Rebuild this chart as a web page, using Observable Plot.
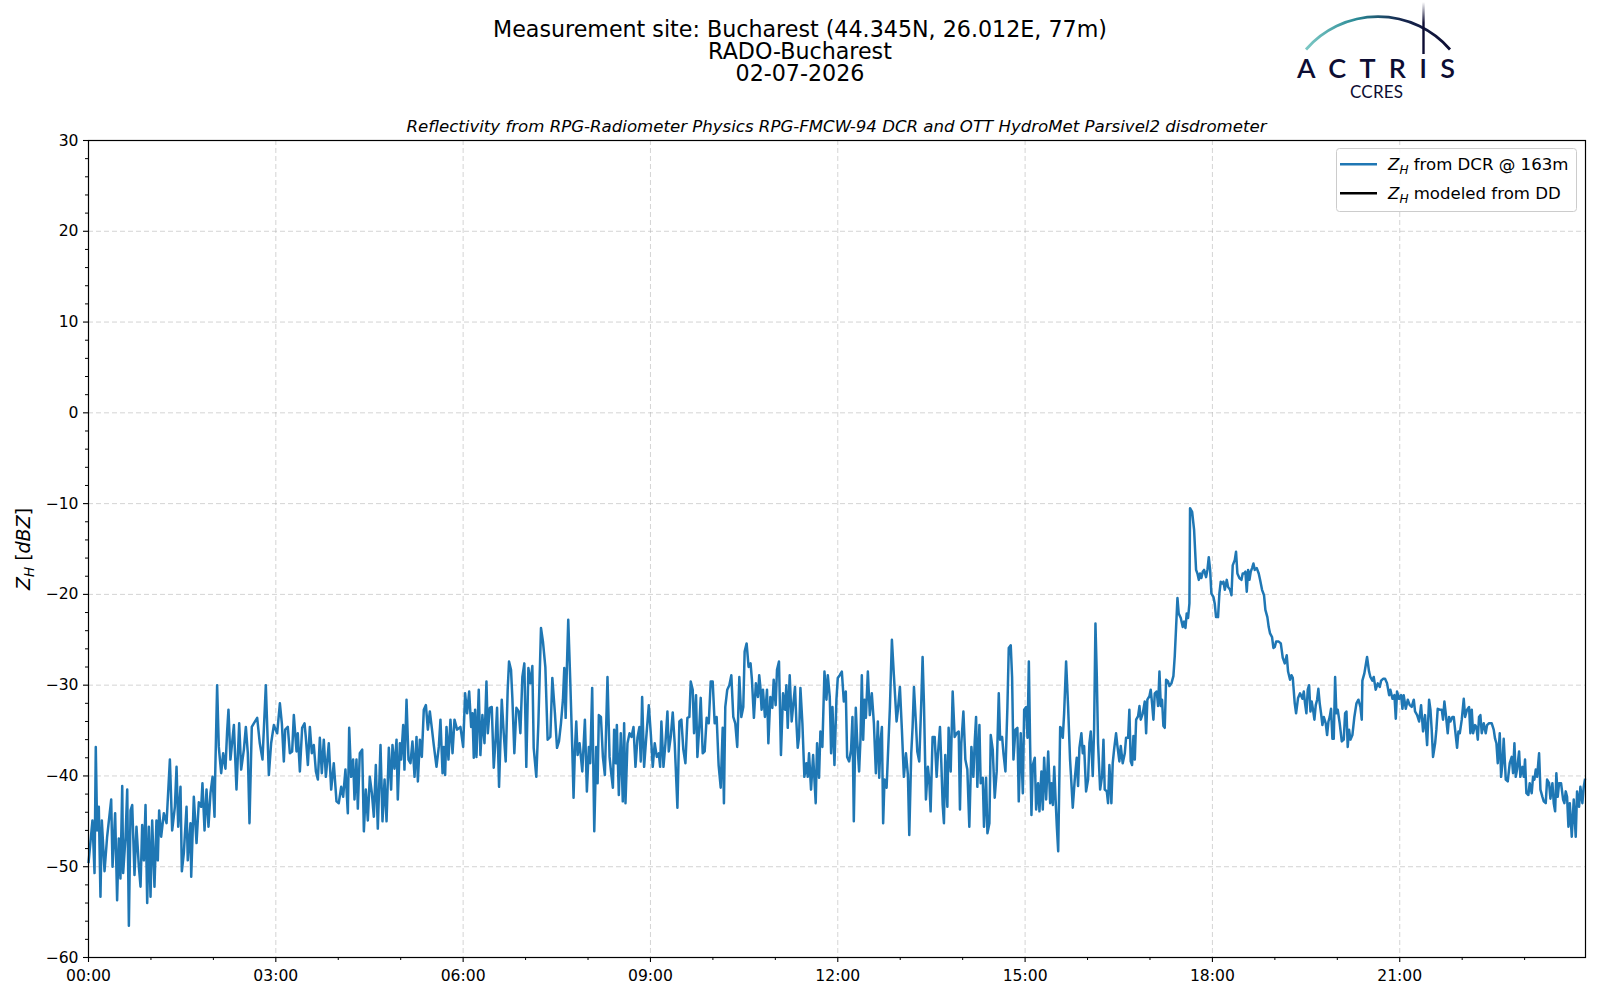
<!DOCTYPE html>
<html>
<head>
<meta charset="utf-8">
<script src="https://cdn.jsdelivr.net/npm/d3@7"></script>
<script src="https://cdn.jsdelivr.net/npm/@observablehq/plot@0.6"></script>
<style>
  html, body { margin: 0; padding: 0; background: #ffffff; }
  #wrap { position: relative; width: 1600px; height: 1000px; overflow: hidden; font-family: "DejaVu Sans", sans-serif; }
  #chart { position: absolute; left: 0; top: 0; }
  #chart svg text { font-size: 15.6px; font-family: "DejaVu Sans", sans-serif; fill: #000; }
  #overlay { position: absolute; left: 0; top: 0; pointer-events: none; }
</style>
</head>
<body>
<div id="wrap">
  <div id="chart"></div>
  <svg id="overlay" width="1600" height="1000" xmlns="http://www.w3.org/2000/svg"></svg>
</div>
<script>
// ---------------- DATA ----------------
// Time in minutes since 00:00, reflectivity Z_H in dBZ (DCR @ 163m)
const dcr_00_06 = [
[0,-49.6],[3.8,-44.9],[5.8,-50.7],[7.0,-36.8],[8.3,-46],[9.9,-43.4],[11.5,-53.3],[12.8,-44.9],[15.4,-50.5],[17.9,-46.7],
[21.8,-42.6],[23.1,-50],[25.6,-44.1],[27.5,-53.7],[29.1,-46.9],[30.7,-51.3],[32.4,-41.1],[33.3,-50.7],[35.6,-46.7],[37.2,-41.5],
[38.8,-56.5],[40.4,-43.8],[42.0,-43.2],[44.2,-50.9],[46.1,-45.6],[48.4,-50],[50.0,-52.2],[51.6,-45.4],[53.2,-49.3],[54.8,-43.2],
[56.4,-54],[58.0,-45.6],[59.6,-53.3],[61.2,-44.9],[63.4,-52.2],[65.3,-44.9],[66.6,-49.3],[67.9,-43.8],[69.8,-46.7],[72.4,-44.1],
[75.0,-45.2],[78.2,-38.2],[80.4,-46],[83.0,-43.4],[84.6,-39],[86.2,-45.6],[88.4,-41.2],[89.7,-50.5],[91.6,-48.5],[94.2,-43.4],
[95.4,-49.3],[98.0,-45.2],[98.7,-51.1],[101.2,-42.3],[103.8,-47.4],[106.0,-42.9],[108.3,-43.4],[109.5,-40.8],[111.5,-46],[113.4,-41.5],
[115.3,-45.6],[117.2,-41.9],[119.2,-40.1],[121.1,-44.5],[121.7,-40.1],[123.6,-30],[125.2,-36.8],[127.5,-39.7],[129.4,-37.5],[131.6,-39.2],
[133.2,-35.1],[134.5,-32.7],[136.4,-38.2],[139.7,-34.4],[142.2,-41.5],[144.8,-34.2],[146.7,-39.3],[149.3,-37.1],[151.2,-34.6],[153.1,-37.5],
[154.7,-45.2],[156.9,-34.6],[158.9,-34.2],[162.1,-33.6],[164.6,-36.4],[167.2,-38.2],[170.4,-30],[173.3,-39.9],[175.5,-36.4],[178.1,-34.4],
[181.3,-35.3],[183.9,-32],[185.8,-34.2],[187.7,-38.4],[189.0,-34.9],[191.5,-34.6],[193.5,-37.5],[195.7,-37.3],[197.3,-33.3],[199.9,-37.3],
[201.1,-35.3],[203.1,-39.5],[205.3,-34.7],[207.6,-34.2],[208.8,-35.7],[210.8,-38.8],[212.7,-34.6],[214.6,-37.5],[216.5,-36.6],[218.5,-39.5],
[220.4,-40.4],[222.3,-35.8],[224.2,-39.7],[226.1,-36],[228.1,-40.1],[230.9,-36.4],[233.2,-41.5],[235.7,-38.6],[238.3,-42.8],[240.5,-43],
[242.8,-41.2],[244.7,-42.3],[246.9,-39.3],[249.2,-44.1],[250.5,-34.7],[252.4,-40.1],[254.3,-38.2],[255.6,-42.6],[257.5,-38.2],[258.8,-43.6],
[260.7,-37.5],[263.0,-37.1],[264.6,-46.1],[266.5,-41.5],[268.4,-44.9],[270.3,-40.1],[272.3,-41.9],[274.2,-44.5],[276.1,-38.8],[278.0,-45.8],
[280.6,-36.6],[282.5,-45],[284.5,-40.4],[286.4,-45],[288.6,-36.9],[290.8,-41.5],[292.1,-36.6],[294.0,-39.2],[296.0,-36],[297.2,-42.6],
[299.2,-36.4],[300.4,-38.2],[302.4,-34.4],[303.6,-39.3],[305.6,-31.6],[307.5,-38.2],[309.4,-38.6],[311.3,-36.2],[313.3,-40.1],[315.2,-35.7],
[316.5,-40.6],[318.4,-36],[320.3,-37.9],[322.2,-32.7],[324.2,-32.2],[326.1,-34.9],[328.0,-32.9],[329.9,-34.7],[331.8,-36.6],[334.4,-39],
[336.6,-36.8],[338.2,-33.8],[340.2,-39.7],[341.4,-36.8],[342.7,-39.9],[344.0,-34.6],[345.9,-38.2],[347.8,-33.8],[349.8,-37.5],[351.7,-33.8],
[354.2,-34.9],[357.4,-34.6]
];
const dcr_06_11 = [
[360.0,-36.8],[361.9,-30.9],[363.8,-33.1],[365.8,-30.7],[367.7,-34.6],[369.0,-33.1],[370.2,-38],[371.5,-32.7],[372.8,-37.9],[375.0,-30.5],
[376.6,-37.7],[378.5,-33.3],[380.5,-36.4],[382.4,-29.6],[383.7,-35.3],[385.6,-32.5],[387.5,-32.4],[389.4,-39.1],[391.3,-35.7],[392.6,-32.5],
[394.5,-41.2],[397.1,-31.6],[399.0,-35.3],[400.9,-38.4],[402.8,-30.5],[404.1,-27.4],[406.0,-28.3],[407.3,-31.4],[409.2,-37.5],[411.2,-32.5],
[413.4,-32.9],[415.0,-35.3],[416.9,-29.1],[418.8,-27.6],[420.7,-39],[422.7,-28.1],[424.6,-29.8],[426.5,-27.9],[427.8,-36.9],[430.3,-40.1],
[432.3,-34.2],[434.8,-23.7],[436.7,-25.2],[439.0,-28],[441.2,-36],[443.8,-35.7],[445.7,-29.2],[448.2,-33.1],[450.2,-36.9],[452.1,-36.2],
[454.0,-34.2],[455.9,-31.6],[457.2,-28.1],[458.5,-33.6],[459.7,-28],[461.0,-22.8],[462.9,-29.4],[464.9,-37.1],[466.1,-42.4],[467.4,-37.1],
[468.7,-34],[470.0,-37.7],[471.9,-36.4],[474.5,-39.5],[477.0,-33.8],[478.9,-41.7],[480.8,-36.8],[482.1,-38.6],[484.0,-30.3],[486.0,-46.1],
[487.9,-36.8],[489.2,-40.8],[490.4,-33.3],[492.4,-33.5],[494.3,-37.9],[496.2,-39.9],[498.7,-29.1],[500.7,-37.9],[501.9,-39.3],[503.9,-41.3],
[505.1,-34.9],[506.7,-38.6],[507.7,-34.4],[509.6,-42.1],[511.5,-35.3],[513.4,-42.8],[514.7,-34.2],[516.0,-43],[517.9,-36.4],[519.9,-35.3],
[521.8,-35.7],[523.7,-34.6],[525.6,-39],[527.5,-35.8],[529.4,-34.6],[530.7,-38.4],[532.0,-31.3],[533.9,-39],[535.8,-36],[538.4,-32.2],
[540.3,-35.3],[542.2,-39],[544.1,-36.4],[546.1,-37.9],[548.0,-37.5],[549.3,-39],[550.5,-34],[552.5,-39],[554.4,-36.4],[556.3,-32.9],
[557.6,-37.3],[559.5,-35.7],[561.4,-33],[563.3,-36.4],[565.9,-43.5],[567.8,-34],[569.7,-33.8],[571.6,-37.1],[573.6,-38.6],[575.5,-33.6],
[577.4,-33.5],[578.7,-29.6],[580.6,-30.5],[581.9,-35.3],[583.8,-31.1],[585.1,-37.9],[587.0,-34.4],[588.3,-31.4],[590.2,-37.5],[592.1,-37.3],
[594.0,-33.6],[596.0,-34.2],[597.9,-29.6],[599.8,-29.6],[601.7,-34.2],[603.6,-33.5],[605.5,-38.8],[607.5,-41.3],[609.4,-34.7],[610.6,-43],
[611.9,-32.4],[613.8,-30.5],[615.8,-30],[617.7,-28.9],[619.6,-33.5],[621.5,-34.2],[623.4,-36.8],[625.4,-29.1],[627.3,-33.5],[629.2,-32.4],
[630.5,-26.3],[632.4,-25.4],[634.3,-28],[636.2,-27.6],[637.5,-29.4],[639.4,-33.6],[641.3,-29.8],[643.3,-31.3],[644.5,-28.9]
];
const dcr_11_15 = [
[645.6,-30.2],[646.8,-32.7],[648.1,-30.5],[650.0,-33.5],[652.0,-30.5],[653.3,-36.4],[655.2,-31.3],[657.1,-32.5],[658.4,-29.4],[660.3,-32.2],
[661.6,-28.3],[663.5,-27.4],[665.4,-37.7],[667.4,-30.9],[669.3,-32.7],[670.6,-30],[671.9,-34.7],[673.8,-28.9],[675.7,-34],[677.0,-32.4],
[678.9,-30.2],[680.2,-34],[681.5,-36.9],[682.8,-35.7],[684.1,-30.3],[686.0,-34.2],[687.9,-40.1],[689.8,-38.6],[691.1,-40.1],[692.4,-37.5],
[694.3,-41.5],[696.3,-37.7],[698.8,-43],[700.1,-36.4],[702.0,-40.2],[703.3,-35.1],[705.2,-36.8],[707.2,-28.5],[709.1,-31.6],[710.4,-28.9],
[712.3,-31.3],[713.6,-37.5],[714.9,-32.4],[716.8,-38.8],[718.7,-31.6],[720.0,-29.2],[721.9,-28.9],[723.9,-28.5],[725.8,-31.8],[727.7,-30.7],
[729.0,-37.9],[730.9,-38.4],[732.8,-37.1],[734.1,-33.5],[735.4,-45],[737.3,-32.5],[738.6,-36],[740.5,-39.5],[741.8,-36],[743.1,-28.9],
[744.4,-36],[745.7,-31.6],[747.0,-33.6],[748.9,-28.5],[750.8,-33.3],[752.7,-30.9],[754.7,-34.2],[756.6,-39.7],[758.5,-34],[759.8,-40.2],
[761.1,-36.2],[762.4,-34.6],[763.6,-45.2],[764.9,-40.4],[766.9,-41.3],[768.1,-38],[770.1,-32.4],[772.0,-25],[773.9,-28.9],[776.5,-34],
[777.8,-32.7],[779.7,-30.2],[781.6,-34.9],[783.5,-40.1],[785.5,-37.5],[787.4,-39.9],[788.7,-46.5],[790.6,-37.5],[791.9,-34.6],[793.2,-30.2],
[795.1,-34.2],[796.4,-37.3],[798.3,-38.4],[800.2,-32],[801.5,-26.9],[802.8,-32],[804.7,-42.6],[806.6,-39],[807.9,-40.4],[809.2,-43.9],
[811.1,-35.7],[813.1,-35.7],[815.0,-40.1],[816.3,-37.5],[818.2,-34.6],[819.5,-38.6],[820.8,-43.2],[822.0,-45.2],[823.3,-37.7],[825.3,-43.4],
[826.5,-34.7],[828.5,-39.5],[830.4,-30.7],[832.3,-35.7],[834.2,-35.3],[836.2,-35.1],[837.4,-43.7],[838.7,-36.4],[840.7,-32.9],[842.6,-38.2],
[844.5,-39.3],[846.4,-45.6],[848.4,-36.8],[850.3,-40.1],[851.6,-36.2],[852.9,-33.5],[854.1,-41.2],[856.1,-34.4],[857.3,-40.8],[859.3,-40.2],
[860.5,-45.6],[862.5,-40.2],[863.8,-46.3],[865.7,-45.2],[867.0,-35.5],[868.9,-37.1],[870.8,-42.4],[872.7,-39.5],[874.7,-30.9],[876.0,-36],
[877.9,-35.7],[879.2,-37.5],[881.1,-39.5],[883.0,-32.4],[884.3,-25.9],[886.2,-25.6],[887.5,-29.1],[888.8,-38.2],[890.7,-34.9],[892.6,-34.7],
[893.9,-42.8],[895.8,-35.3],[897.8,-41.9],[899.1,-32.7],[901.0,-32.4],[902.3,-35.8],[903.6,-27.4],[904.8,-36.4],[906.1,-44.3],[907.4,-38.8],
[909.3,-38],[910.6,-43.7],[912.5,-40.8],[913.8,-43.9],[915.7,-39.5],[917.0,-43.7],[918.3,-38],[920.2,-42.6],[922.2,-37.3],[924.1,-43],
[925.4,-40.8],[926.7,-43.2],[928.0,-39],[929.2,-42.3],[930.5,-45.6],[931.8,-48.3],[933.7,-34.6]
];
const dcr_15_19 = [
[934.3,-34.7],[936.2,-35.8],[937.5,-33.1],[939.4,-27.4],[941.3,-32.3],[943.2,-38.2],[944.5,-40.8],[945.8,-43.5],[947.7,-40.4],[949.6,-38],
[950.9,-41.1],[952.2,-36.9],[954.1,-35.3],[955.4,-37.5],[956.7,-36.7],[958.6,-41.7],[960.5,-40.4],[961.8,-36.4],[963.1,-35.1],[965.0,-40],
[966.3,-34.9],[967.6,-23.2],[968.9,-29],[970.1,-36.4],[972.1,-41.5],[974.0,-40],[975.3,-36],[976.5,-41.5],[978.5,-41.7],[979.7,-43],
[981.0,-38.8],[982.9,-43],[984.2,-38.6],[985.5,-37.1],[987.4,-35.3],[988.7,-36.7],[990.6,-38.4],[991.9,-36.7],[993.8,-38.6],[995.8,-37.5],
[997.0,-35.8],[999.0,-35.8],[1000.2,-32.7],[1001.5,-38.4],[1002.8,-38.8],[1004.1,-35.6],[1005.4,-38.2],[1006.7,-33.8],[1008.6,-33.4],[1009.9,-32.3],
[1011.1,-33.8],[1013.1,-33.1],[1015.0,-31.8],[1016.3,-35.3],[1017.5,-31.6],[1019.5,-31.2],[1020.7,-30.5],[1022.0,-32],[1023.3,-33.8],[1024.6,-30.9],
[1026.5,-30.7],[1027.8,-32.3],[1029.1,-28.5],[1030.4,-32.3],[1031.6,-31.6],[1032.9,-34.5],[1034.2,-34.7],[1035.5,-29.4],[1037.4,-29.6],[1038.7,-30.1],
[1040.6,-29.8],[1042.5,-29],[1043.8,-26.8],[1045.1,-23.6],[1046.4,-20.4],[1047.6,-22.1],[1049.6,-22.6],[1051.5,-23.6],[1052.8,-23],[1054.1,-23.7],
[1055.3,-22.1],[1056.6,-22.6],[1057.9,-21],[1058.5,-10.5],[1060.5,-10.9],[1062.4,-12.9],[1064.3,-17.3],[1065.6,-17.7],[1066.9,-18.4],[1068.1,-17.7],
[1069.4,-18.2],[1070.7,-17.5],[1072.0,-17.3],[1073.9,-18.1],[1075.2,-17.3],[1076.5,-15.9],[1077.8,-17.3],[1079.0,-19.9],[1081.0,-20.3],[1082.2,-21],
[1083.5,-22.5],[1085.4,-22.5],[1086.7,-19.9],[1088.0,-18.6],[1089.3,-18.8],[1090.6,-18.6],[1091.9,-19.5],[1093.8,-18.4],[1095.1,-19.2],[1097.0,-19.5],
[1098.3,-20.1],[1099.5,-16.8],[1101.5,-16.2],[1102.7,-15.3],[1104.0,-17.7],[1105.9,-18.2],[1107.9,-18.4],[1109.1,-17.7],[1110.4,-17.7],[1111.7,-17.5],
[1113.0,-19.7],[1114.3,-17.3],[1115.6,-18.4],[1116.8,-17.5],[1118.1,-17.1],[1119.4,-16.6],[1120.7,-17.3],[1122.6,-17.1],[1124.5,-17.7],[1125.8,-18.4],
[1127.7,-19.5],[1129.6,-20.1],[1130.9,-21.7],[1132.8,-22.5],[1134.1,-23.6],[1135.4,-24.3],[1137.3,-24.7],[1138.6,-25.9],[1139.9,-25.8],[1141.2,-25.2],
[1143.7,-25.2],[1145.7,-25.4],[1147.6,-27],[1149.5,-27.6],[1151.4,-26.7],[1152.7,-28.5],[1154.6,-29.4],[1155.9,-28.9],[1157.2,-29.2],[1159.1,-32],
[1160.4,-33.1],[1162.3,-31.4],[1164.2,-30.9]
];
const dcr_19_24 = [
[1166.5,-31.5],[1167.8,-30.7],[1169.0,-32],[1170.3,-33.1],[1171.6,-30.5],[1172.9,-30],[1174.2,-32.9],[1175.4,-31.8],[1176.7,-32.7],[1178.0,-33.8],
[1179.3,-32.2],[1180.6,-31.6],[1181.8,-30.4],[1183.1,-32],[1184.4,-33.1],[1185.7,-34.4],[1187.0,-33.5],[1188.9,-34.2],[1190.2,-35.5],[1191.5,-34],
[1192.7,-33.5],[1194.0,-32.6],[1195.3,-35.9],[1196.6,-35.9],[1197.9,-29.1],[1199.1,-33.1],[1200.4,-32.7],[1202.3,-34.2],[1204.3,-36.2],[1206.2,-36],
[1207.5,-33.1],[1208.8,-32.9],[1210.0,-36.8],[1211.3,-34.9],[1212.6,-36],[1214.5,-35.5],[1216.4,-33.5],[1218.4,-32],[1220.3,-31.6],[1222.2,-32.4],
[1223.5,-33.8],[1224.1,-29.5],[1226.0,-28.7],[1227.3,-27.8],[1228.6,-26.9],[1230.5,-28.5],[1231.8,-29.1],[1233.7,-29.5],[1235.0,-29.1],[1236.9,-30.5],
[1238.9,-29.8],[1240.8,-30.2],[1242.1,-29.5],[1244.0,-29.3],[1245.9,-29.3],[1247.8,-29.8],[1249.8,-31.1],[1251.0,-30.5],[1253.0,-31.5],[1254.9,-31.1],
[1256.2,-33.7],[1257.4,-30.7],[1259.4,-31.5],[1261.3,-31.1],[1262.6,-32.6],[1263.8,-31.1],[1265.8,-32.6],[1267.7,-31.6],[1269.6,-32.2],[1271.5,-32.4],
[1273.5,-31.6],[1274.7,-32.9],[1276.7,-33.3],[1278.6,-34],[1280.5,-32.2],[1282.4,-35.1],[1284.3,-33.3],[1286.3,-36.6],[1288.2,-31.6],[1289.5,-32.7],
[1290.7,-34.9],[1292.0,-37.9],[1294.0,-36.4],[1295.2,-34.9],[1296.5,-32.6],[1298.4,-32.7],[1300.4,-32.7],[1301.6,-33.8],[1302.9,-31.8],[1304.2,-33.1],
[1306.1,-35.3],[1307.4,-33.5],[1308.7,-34],[1310.6,-33.5],[1311.9,-33.5],[1313.2,-34.9],[1315.1,-36.9],[1316.4,-35.1],[1317.7,-35.3],[1319.6,-33.8],
[1321.5,-31.5],[1322.8,-33.5],[1324.7,-32.7],[1326.6,-32.4],[1327.9,-35.3],[1329.2,-32.7],[1330.5,-35.3],[1332.4,-34.4],[1333.7,-34.6],[1335.0,-36],
[1336.2,-33.5],[1337.5,-33.3],[1338.8,-35.3],[1340.7,-34.2],[1342.6,-35.3],[1343.9,-34.4],[1345.8,-34.2],[1348.4,-34.2],[1350.3,-34.9],[1351.6,-35.9],
[1352.9,-36.4],[1354.2,-38.6],[1356.1,-35.3],[1357.4,-40.1],[1358.7,-38.6],[1359.9,-35.9],[1361.9,-40.4],[1363.8,-40.6],[1365.7,-38.6],[1367.6,-37.9],
[1368.9,-39.7],[1370.2,-36.4],[1371.5,-40.1],[1372.7,-39.3],[1374.7,-37.3],[1375.9,-40.1],[1377.9,-39],[1379.2,-40.1],[1380.4,-38.2],[1381.7,-41.9],
[1383.6,-42.1],[1384.9,-40.8],[1386.8,-41.9],[1388.1,-40.1],[1389.4,-40.4],[1390.7,-39.3],[1392.0,-40.1],[1393.9,-37.5],[1395.2,-41.5],[1397.1,-42.3],
[1398.4,-42.8],[1400.3,-43],[1401.6,-40.4],[1403.5,-40.8],[1404.8,-42.5],[1406.7,-40.8],[1408.0,-43],[1409.3,-43.9],[1410.5,-39.7],[1411.8,-42.3],
[1413.1,-40.8],[1415.0,-40.8],[1417.0,-42.6],[1418.2,-43],[1419.5,-41.7],[1420.8,-42.3],[1422.1,-45.6],[1423.4,-43],[1425.3,-46.7],[1427.2,-42.6],
[1429.1,-46.7],[1430.4,-41.7],[1432.3,-43.4],[1433.6,-41.2],[1435.5,-43],[1436.8,-41.2],[1438.1,-40.3]
];

// Axis ticks / labels
const xMajorTicks = [0, 180, 360, 540, 720, 900, 1080, 1260];
const xTickLabels = ["00:00","03:00","06:00","09:00","12:00","15:00","18:00","21:00"];
const xMinorTicks = [60,120,240,300,420,480,600,660,780,840,960,1020,1140,1200,1320,1380];
const yMajorTicks = [-60,-50,-40,-30,-20,-10,0,10,20,30];
const yMinorTicks = [-58,-56,-54,-52,-48,-46,-44,-42,-38,-36,-34,-32,-28,-26,-24,-22,-18,-16,-14,-12,-8,-6,-4,-2,2,4,6,8,12,14,16,18,22,24,26,28];

const titleLines = ["Measurement site: Bucharest (44.345N, 26.012E, 77m)", "RADO-Bucharest", "02-07-2026"];
const subtitle = "Reflectivity from RPG-Radiometer Physics RPG-FMCW-94 DCR and OTT HydroMet Parsivel2 disdrometer";
const legendItems = [
  {sub: "H", text: " from DCR @ 163m", color: "#1f77b4"},
  {sub: "H", text: " modeled from DD", color: "#000000"}
];

// ---------------- PLOT ----------------
const dcr = [...dcr_00_06, ...dcr_06_11, ...dcr_11_15, ...dcr_15_19, ...dcr_19_24]
  .map(([t, v]) => ({t, v}));

const gridStyle = {stroke: "#b0b0b0", strokeOpacity: 0.55, strokeDasharray: "5,3", strokeWidth: 1};

const chart = Plot.plot({
  width: 1600,
  height: 1000,
  marginLeft: 88,
  marginRight: 15,
  marginTop: 140,
  marginBottom: 43,
  style: {fontFamily: "DejaVu Sans, sans-serif", fontSize: "15.6px", color: "#000", background: "transparent", overflow: "visible"},
  x: {type: "linear", domain: [0, 1438.5]},
  y: {type: "linear", domain: [-60, 30]},
  marks: [
    Plot.gridX(xMajorTicks, gridStyle),
    Plot.gridY(yMajorTicks, gridStyle),
    Plot.line(dcr, {x: "t", y: "v", stroke: "#1f77b4", strokeWidth: 2.5, strokeLinejoin: "round", strokeLinecap: "butt"}),
    Plot.frame({stroke: "#000", strokeWidth: 1.2}),
    Plot.axisX(xMajorTicks, {anchor: "bottom", tickSize: 5, tickPadding: 7, tickFormat: (d) => xTickLabels[xMajorTicks.indexOf(d)], label: null, fontSize: 15.6, strokeWidth: 1.1}),
    Plot.axisX(xMinorTicks, {anchor: "bottom", tickSize: 3, tickFormat: () => "", label: null, strokeWidth: 1}),
    Plot.axisY(yMajorTicks, {anchor: "left", tickSize: 5, tickPadding: 5, tickFormat: (d) => d < 0 ? "\u2212" + Math.abs(d) : String(d), label: null, fontSize: 15.6, strokeWidth: 1.1}),
    Plot.axisY(yMinorTicks, {anchor: "left", tickSize: 3, tickFormat: () => "", label: null, strokeWidth: 1})
  ]
});
document.getElementById("chart").appendChild(chart);

// ---------------- OVERLAY TEXT (titles, y label, legend, logo) ----------------
const ov = d3.select("#overlay");
const ff = "DejaVu Sans, sans-serif";

// Title: one multi-line text element
const title = ov.append("text").attr("x", 800).attr("y", 37).attr("text-anchor", "middle")
  .attr("font-family", ff).attr("font-size", 22.2).attr("fill", "#000");
titleLines.forEach((s, i) => {
  title.append("tspan").attr("x", 800).attr("dy", i === 0 ? 0 : 22).text(s);
});
// Subtitle (italic)
ov.append("text").attr("x", 836.5).attr("y", 131.5).attr("text-anchor", "middle")
  .attr("font-family", ff).attr("font-style", "italic").attr("font-size", 16.6).attr("fill", "#000").text(subtitle);

// Y label
const yl = ov.append("text").attr("transform", "translate(30,549) rotate(-90)").attr("text-anchor", "middle")
  .attr("font-family", ff).attr("font-size", 19).attr("fill", "#000");
yl.append("tspan").attr("font-style", "italic").text("Z");
yl.append("tspan").attr("font-style", "italic").attr("font-size", 13.5).attr("dy", 4).text("H");
yl.append("tspan").attr("dy", -4).text(" [");
yl.append("tspan").attr("font-style", "italic").text("dBZ");
yl.append("tspan").text("]");

// Legend
ov.append("rect").attr("x", 1336.5).attr("y", 148.5).attr("width", 240).attr("height", 63).attr("rx", 3)
  .attr("fill", "#fff").attr("fill-opacity", 0.8).attr("stroke", "#cccccc").attr("stroke-width", 1);
const legY = [164.3, 193.3];
legendItems.forEach((it, i) => {
  ov.append("line").attr("x1", 1340).attr("x2", 1377).attr("y1", legY[i]).attr("y2", legY[i])
    .attr("stroke", it.color).attr("stroke-width", 2.5);
  const t = ov.append("text").attr("x", 1388).attr("y", legY[i] + 6).attr("font-family", ff)
    .attr("font-size", 16.6).attr("fill", "#000");
  t.append("tspan").attr("font-style", "italic").text("Z");
  t.append("tspan").attr("font-style", "italic").attr("font-size", 12).attr("dy", 3.5).text(it.sub);
  t.append("tspan").attr("dy", -3.5).text(it.text);
});

// Logo (ACTRIS / CCRES)
const defs = ov.append("defs");
const g1 = defs.append("linearGradient").attr("id", "arcGrad").attr("x1", "0%").attr("x2", "100%").attr("y1", "0%").attr("y2", "0%");
g1.append("stop").attr("offset", "0%").attr("stop-color", "#7cc8c4");
g1.append("stop").attr("offset", "35%").attr("stop-color", "#2a8a96");
g1.append("stop").attr("offset", "65%").attr("stop-color", "#16284f");
g1.append("stop").attr("offset", "100%").attr("stop-color", "#0d0d33");
const g2 = defs.append("linearGradient").attr("id", "lineGrad").attr("x1", "0%").attr("x2", "0%").attr("y1", "0%").attr("y2", "100%");
g2.append("stop").attr("offset", "0%").attr("stop-color", "#0d0d33").attr("stop-opacity", 0);
g2.append("stop").attr("offset", "40%").attr("stop-color", "#0d0d33").attr("stop-opacity", 1);
g2.append("stop").attr("offset", "100%").attr("stop-color", "#0d0d33").attr("stop-opacity", 1);
ov.append("path").attr("d", "M1306,49.5 A95.4,95.4 0 0 1 1450,49.5").attr("fill", "none")
  .attr("stroke", "url(#arcGrad)").attr("stroke-width", 2.8);
ov.append("rect").attr("x", 1422.3).attr("y", 2).attr("width", 2.4).attr("height", 52).attr("fill", "url(#lineGrad)");
ov.append("text").attr("x", 1297).attr("y", 77.5).attr("font-family", "Lato, 'Open Sans', sans-serif")
  .attr("font-size", 27).attr("font-weight", 600).attr("fill", "#0d0d33").attr("textLength", 158).attr("lengthAdjust", "spacing").text("ACTRIS");
ov.append("text").attr("x", 1350).attr("y", 98.3).attr("font-family", "Lato, 'Open Sans', sans-serif")
  .attr("font-size", 17).attr("fill", "#0d0d33").attr("textLength", 53).attr("lengthAdjust", "spacing").text("CCRES");
</script>
</body>
</html>
